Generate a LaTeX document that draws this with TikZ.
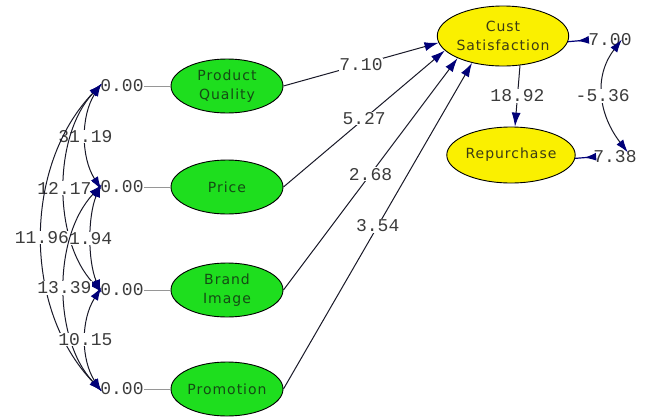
\documentclass[tikz,border=0pt]{standalone}
\usepackage{fontspec}
\newfontfamily\labfont{Liberation Mono}
\newfontfamily\varfont[LetterSpace=7]{DejaVu Sans}
\usetikzlibrary{shapes.geometric,arrows.meta}
\definecolor{varGreen}{RGB}{30,222,30}
\definecolor{varYellow}{RGB}{250,240,0}
\definecolor{tipNavy}{RGB}{0,0,120}
\definecolor{greenText}{RGB}{20,75,20}
\definecolor{yellowText}{RGB}{60,60,20}
\definecolor{numText}{RGB}{60,60,60}
\definecolor{lineDark}{RGB}{25,25,40}
\definecolor{stubGrey}{RGB}{150,150,150}
\tikzset{
  covtip/.tip={Latex[length=13pt,width=8.5pt,color=tipNavy]},
  pathtip/.tip={Latex[length=14pt,width=9pt,color=tipNavy]},
  errtip/.tip={Latex[length=12pt,width=8pt,color=tipNavy]},
}
\begin{document}
\begin{tikzpicture}[x=1pt,y=-1pt,
  latent/.style={ellipse,draw=black,line width=0.9pt,inner sep=0pt,
    minimum width=112pt,minimum height=54pt,align=center,
    font=\varfont\fontsize{14}{19}\selectfont},
  exo/.style={latent,fill=varGreen,text=greenText},
  endo/.style={latent,fill=varYellow,text=yellowText},
  varlabel/.style={font=\labfont\fontsize{18}{18}\selectfont,text=numText,inner sep=0.5pt},
  coef/.style={varlabel,fill=white},
  stub/.style={draw=stubGrey,line width=0.9pt},
  pathline/.style={draw=lineDark,line width=1pt,-pathtip},
  cov/.style={draw=lineDark,line width=1pt,covtip-covtip,shorten <=-3pt,shorten >=-3pt},
  errline/.style={draw=tipNavy,line width=1.2pt},
  errhead/.style={errline,-errtip,shorten >=9pt},
]
\fill[white] (0,0) rectangle (649,416);
\useasboundingbox (0,0) rectangle (649,416);

% latent variables
\node[exo] (pq) at (227,86) {Product\\Quality};
\node[exo] (pr) at (227,187) {Price};
\node[exo] (bi) at (227,290) {Brand\\Image};
\node[exo] (pm) at (227,389) {Promotion};
\node[endo,minimum width=110pt,minimum height=60pt] (cs) at (503,36) {Cust\\Satisfaction};
\node[endo,minimum height=56pt] (rp) at (511,155) {Repurchase};

% variances of the exogenous variables
\node[varlabel] (v1) at (122,86) {0.00};
\node[varlabel] (v2) at (122,187) {0.00};
\node[varlabel] (v3) at (122,290) {0.00};
\node[varlabel] (v4) at (122,389) {0.00};
\draw[stub] (v1.east) -- (pq.west);
\draw[stub] (v2.east) -- (pr.west);
\draw[stub] (v3.east) -- (bi.west);
\draw[stub] (v4.east) -- (pm.west);

% error variances of the endogenous variables
\node[varlabel] (e1) at (610,40) {7.00};
\node[varlabel] (e2) at (615,157) {7.38};
\coordinate (e1a) at (620,42);
\coordinate (e2a) at (626,150);

% structural paths
\draw[pathline] (pq.east) -- node[coef]{7.10} (cs.186);
\draw[pathline] (pr.east) -- node[coef]{5.27} (cs.194);
\draw[pathline] (bi.east) -- node[coef]{2.68} (cs.206);
\draw[pathline] (pm.east) -- node[coef]{3.54} (cs.221);
\draw[pathline] (cs.-60) -- node[coef]{18.92} (rp.82);

% error terms
\draw[errline] (e1.west) -- (cs.-5);
\draw[errhead] (e1.west) -- (cs.-5);
\draw[errline] (e2.west) -- (rp.-3);
\draw[errhead] (e2.west) -- (rp.-3);
\draw[cov] (e1a) .. controls +(-27,35) and +(-27,-35) .. node[coef]{-5.36} (e2a);

% covariances among the exogenous variables
\draw[cov] (v1.west) .. controls +(-19,30) and +(-19,-30) .. node[coef]{31.19} (v2.west);
\draw[cov] (v1.west) .. controls +(-47,50) and +(-47,-50) .. node[coef]{12.17} (v3.west);
\draw[cov] (v1.west) .. controls +(-77,80) and +(-77,-80) .. node[coef]{11.96} (v4.west);
\draw[cov] (v2.west) .. controls +(-12,30) and +(-12,-30) .. node[coef]{1.94} (v3.west);
\draw[cov] (v2.west) .. controls +(-47,50) and +(-47,-50) .. node[coef]{13.39} (v4.west);
\draw[cov] (v3.west) .. controls +(-19,30) and +(-19,-30) .. node[coef]{10.15} (v4.west);
\end{tikzpicture}
\end{document}
